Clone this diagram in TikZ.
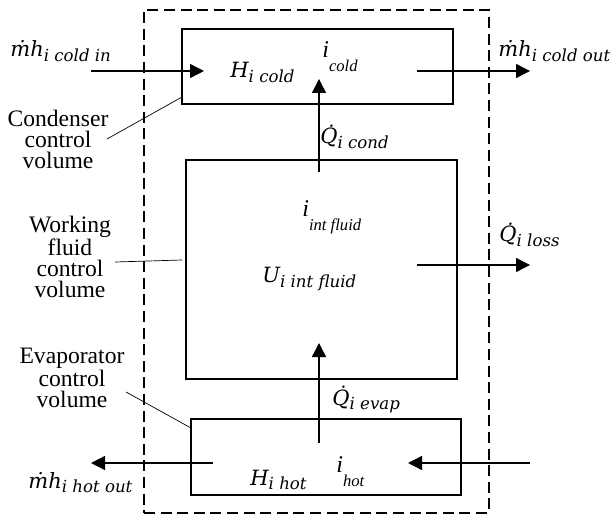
\documentclass[tikz,border=0pt]{standalone}
\usepackage{fontspec}
\setmainfont{Liberation Serif}
\newfontfamily\eqfont{DejaVu Serif}
\usetikzlibrary{arrows.meta}

% labels in the equation style
\newcommand{\eqsub}[1]{\raisebox{-0.45ex}{\fontsize{8.3}{8.3}\selectfont #1}}
\newcommand{\eqlbl}[2]{{\eqfont\itshape\fontsize{10.5}{10.5}\selectfont #1\eqsub{#2}}}
\newcommand{\ilbl}[1]{{\itshape\fontsize{12}{12}\selectfont i\raisebox{-7pt}{\fontsize{8.3}{8.3}\selectfont #1}}}

\begin{document}
\begin{tikzpicture}[x=0.5pt, y=-0.5pt,
  box/.style={draw, line width=0.7pt, inner sep=0pt},
  flow/.style={line width=0.7pt, -{Triangle[length=7pt,width=7pt]}},
  leader/.style={line width=0.35pt},
  lbl/.style={inner sep=0pt, anchor=base west},
  cvtext/.style={align=center, inner sep=0pt, font=\fontsize{11.8}{10.5}\selectfont}]
\useasboundingbox (0,0) rectangle (613,517);

% Overall control volume
\node[draw, line width=0.7pt, dash pattern=on 5.5pt off 2.8pt, inner sep=0pt,
  minimum width=172.5pt, minimum height=251.5pt] (cv) at (316.5,261.5) {};

% Condenser, working fluid and evaporator
\node[box, minimum width=135.5pt, minimum height=37.5pt] (cond) at (317.5,66.5) {};
\node[box, minimum width=135.5pt, minimum height=109.5pt] (fluid) at (321.5,269.5) {};
\node[box, minimum width=135pt, minimum height=38pt] (evap) at (326,457) {};

% Flow and heat arrows
\coordinate (cin) at (91,71);    \coordinate (cinend) at (204,71);
\coordinate (cout) at (417,71);  \coordinate (coutend) at (530,71);
\coordinate (qc) at (319,172);   \coordinate (qcend) at (319,79);
\coordinate (ql) at (417,265);   \coordinate (qlend) at (530,265);
\coordinate (qe) at (319,443);   \coordinate (qeend) at (319,343);
\coordinate (hin) at (530,463);  \coordinate (hinend) at (408,463);
\coordinate (hout) at (213,463); \coordinate (houtend) at (91,463);
\draw[flow] (cin) -- (cinend);
\draw[flow] (cout) -- (coutend);
\draw[flow] (qc) -- (qcend);
\draw[flow] (ql) -- (qlend);
\draw[flow] (qe) -- (qeend);
\draw[flow] (hin) -- (hinend);
\draw[flow] (hout) -- (houtend);

% Labels
\node[lbl] (mcin) at (10,57) {\eqlbl{\.{m}h}{i cold in}};
\node[lbl] (mcout) at (498,57) {\eqlbl{\.{m}h}{i cold out}};
\node[lbl] (hcold) at (230,78) {\eqlbl{H}{i cold}};
\node[lbl] (icold) at (322,58) {\ilbl{cold}};
\node[lbl] (qcond) at (320,144) {\eqlbl{\.{Q}}{i cond}};
\node[lbl] (ifluid) at (302,217) {\ilbl{int fluid}};
\node[lbl] (ufluid) at (262,283) {\eqlbl{U}{i int fluid}};
\node[lbl] (qloss) at (499,242) {\eqlbl{\.{Q}}{i loss}};
\node[lbl] (qevap) at (332,405) {\eqlbl{\.{Q}}{i evap}};
\node[lbl] (hhot) at (250,485) {\eqlbl{H}{i hot}};
\node[lbl] (ihot) at (336,472) {\ilbl{hot}};
\node[lbl] (mhout) at (28,488) {\eqlbl{\.{m}h}{i hot out}};

% Control volume names
\node[cvtext] (condtxt) at (58,139) {Condenser\\control\\volume};
\node[cvtext] (fluidtxt) at (70,257) {Working\\fluid\\control\\volume};
\node[cvtext] (evaptxt) at (72,378) {Evaporator\\control\\volume};
\coordinate (condpt) at (182,97);
\coordinate (fluidpt) at (182,260);
\coordinate (evappt) at (191,428);
\draw[leader] (107,139) coordinate (condl) -- (condpt);
\draw[leader] (115,262) coordinate (fluidl) -- (fluidpt);
\draw[leader] (126,392) coordinate (evapl) -- (evappt);
\end{tikzpicture}
\end{document}
